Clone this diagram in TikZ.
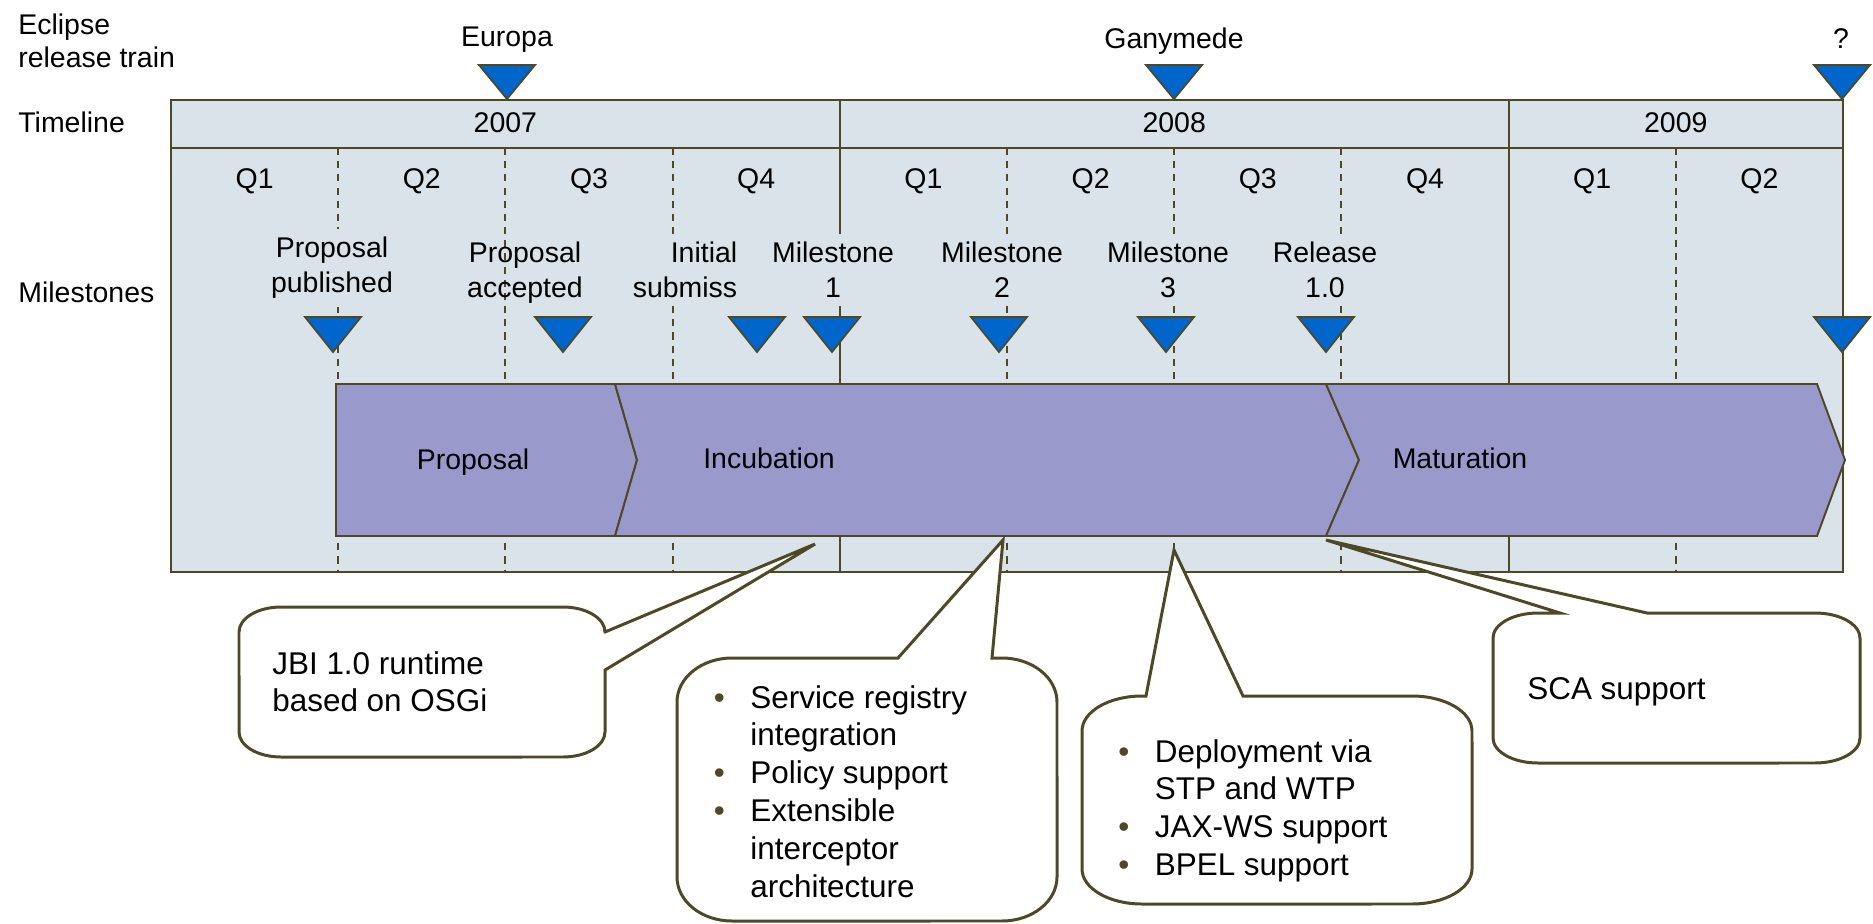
\documentclass[tikz,border=0pt]{standalone}
\usepackage{fontspec}
\setmainfont{Liberation Sans}
\usetikzlibrary{positioning}

\definecolor{panel}{RGB}{218,227,233}
\definecolor{edgeolive}{RGB}{77,72,38}
\definecolor{markblue}{RGB}{0,102,204}
\definecolor{phase}{RGB}{153,153,204}

\newcommand{\bl}{\makebox[0.73cm][l]{\textcolor{edgeolive}{\textbullet}}}
\newcommand{\nb}{\hspace*{0.73cm}}

\tikzset{
  lbl/.style={font=\fontsize{16.2}{19.9}\selectfont, inner sep=0pt, align=center},
  hide/.style={lbl, fill=panel, inner ysep=0.16cm},
  note/.style={font=\fontsize{17.9}{21.5}\selectfont, inner sep=0pt, align=left, anchor=north west},
  frame/.style={draw=edgeolive, line width=1.1pt},
  quarter/.style={draw=edgeolive, line width=1.1pt, dash pattern=on 4pt off 3.5pt},
  tri/.style={fill=markblue, draw=edgeolive, line width=1pt},
  stage/.style={fill=phase, draw=edgeolive, line width=1.1pt},
  bubble/.style={fill=white, draw=edgeolive, line width=1.7pt}
}

\begin{document}
\begin{tikzpicture}[x=0.02cm, y=-0.02cm]
            \useasboundingbox (0,0) rectangle (1873,923);
            % grille du calendrier
            \draw[frame, fill=panel] (171,100) rectangle (1843,572);
            \draw[frame] (171,148) -- (1843,148);
            \foreach \x in {839.8,1508.6} \draw[frame] (\x,100) -- (\x,572);
            \foreach \i in {1,2,3,5,6,7,9} \draw[quarter] ({171+\i*167.2},148) -- ({171+\i*167.2},572);
            \foreach \x/\t in {505.4/2007,1174.2/2008,1675.8/2009}
              \node[lbl, anchor=north] (y\t) at (\x,112) {\t};
            \foreach \i in {0,...,9} {
              \pgfmathtruncatemacro\q{mod(\i,4)+1}
              \node[lbl, anchor=north] (q\i) at ({171+(\i+0.5)*167.2},168) {Q\q};
            }
            \node[lbl, anchor=north west, align=left, font=\fontsize{16.2}{18.7}\selectfont] (train) at (18,14) {Eclipse\\release train};
            \node[lbl, anchor=north west] (timeline) at (18,112) {Timeline};
            \node[lbl, anchor=north west] (milestones) at (18,282) {Milestones};
            \node[lbl, anchor=north] (europa) at (507,27) {Europa};
            \node[lbl, anchor=north] (ganymede) at (1174,28) {Ganymede};
            \node[lbl, anchor=north] (next) at (1841,28) {?};
            % jalons
            \node[hide, anchor=north] (published) at (332,229) {Proposal\\published};
            \node[lbl, anchor=north] (accepted) at (525,242) {Proposal\\accepted};
            \node[hide, anchor=north] (initial) at (704,234) {Initial\\submission};
            \node[hide, anchor=north, minimum width=3.8cm] (ms1) at (833,234) {Milestone\\1};
            \node[hide, anchor=north] (ms2) at (1002,234) {Milestone\\2};
            \node[hide, anchor=north] (ms3) at (1168,234) {Milestone\\3};
            \node[hide, anchor=north] (release) at (1325,234) {Release\\1.0};
            % phases
            \draw[stage] (336,384) -- (615,384) -- (637,460) -- (615,536) -- (336,536) -- cycle;
            \draw[stage] (615,384) -- (1326,384) -- (1359,460) -- (1326,536) -- (615,536) -- (637,460) -- cycle;
            \draw[stage] (1326,384) -- (1817,384) -- (1845,460) -- (1817,536) -- (1326,536) -- (1359,460) -- cycle;
            \node[lbl, anchor=north] (proposal) at (473,449) {Proposal};
            \node[lbl, anchor=north] (incubation) at (769,448) {Incubation};
            \node[lbl, anchor=north] (maturation) at (1460,448) {Maturation};
            \foreach \x in {507,1174,1842} \draw[tri] (\x-28,65) -- (\x+28,65) -- (\x,99) -- cycle;
            \foreach \x in {333,563,757,832,999,1166,1326,1842} \draw[tri] (\x-28,317) -- (\x+28,317) -- (\x,352) -- cycle;
            % bulles
            \coordinate (jbitip) at (815,544);
            \coordinate (regtip) at (1003,540);
            \coordinate (deptip) at (1174,550);
            \coordinate (scatip) at (1326,540);
            \draw[bubble] (281,607) -- (563,607) arc[start angle=90,end angle=0,x radius=0.84cm,y radius=0.5cm]
              -- (605,632) -- (jbitip) -- (605,670) -- (605,732) arc[start angle=0,end angle=-90,x radius=0.84cm,y radius=0.5cm]
              -- (281,757) arc[start angle=270,end angle=180,x radius=0.84cm,y radius=0.5cm]
              -- (239,632) arc[start angle=180,end angle=90,x radius=0.84cm,y radius=0.5cm] -- cycle;
            \draw[bubble] (732,658) -- (898,658) -- (regtip) -- (992,658) -- (1002,658) arc[start angle=90,end angle=0,x radius=1.1cm,y radius=0.88cm]
              -- (1057,877) arc[start angle=0,end angle=-90,x radius=1.1cm,y radius=0.88cm]
              -- (732,921) arc[start angle=270,end angle=180,x radius=1.1cm,y radius=0.88cm]
              -- (677,702) arc[start angle=180,end angle=90,x radius=1.1cm,y radius=0.88cm] -- cycle;
            \draw[bubble] (1142,696) -- (1146,696) -- (deptip) -- (1243,696) -- (1412,696) arc[start angle=90,end angle=0,x radius=1.2cm,y radius=0.7cm]
              -- (1472,869) arc[start angle=0,end angle=-90,x radius=1.2cm,y radius=0.7cm]
              -- (1142,904) arc[start angle=270,end angle=180,x radius=1.2cm,y radius=0.7cm]
              -- (1082,731) arc[start angle=180,end angle=90,x radius=1.2cm,y radius=0.7cm] -- cycle;
            \draw[bubble] (1538,613) -- (1560,613) -- (scatip) -- (1647,613) -- (1815,613) arc[start angle=90,end angle=0,x radius=0.9cm,y radius=0.5cm]
              -- (1860,738) arc[start angle=0,end angle=-90,x radius=0.9cm,y radius=0.5cm]
              -- (1538,763) arc[start angle=270,end angle=180,x radius=0.9cm,y radius=0.5cm]
              -- (1493,638) arc[start angle=180,end angle=90,x radius=0.9cm,y radius=0.5cm] -- cycle;
            \node[note] (jbitext) at (272,651) {JBI 1.0 runtime\\based on OSGi};
            \node[note] (regtext) at (713.5,685) {\bl Service registry\\\nb integration\\\bl Policy support\\\bl Extensible\\\nb interceptor\\\nb architecture};
            \node[note] (deptext) at (1118,739) {\bl Deployment via\\\nb STP and WTP\\\bl JAX-WS support\\\bl BPEL support};
            \node[note] (scatext) at (1527,677) {SCA support};
        \end{tikzpicture}
\end{document}
